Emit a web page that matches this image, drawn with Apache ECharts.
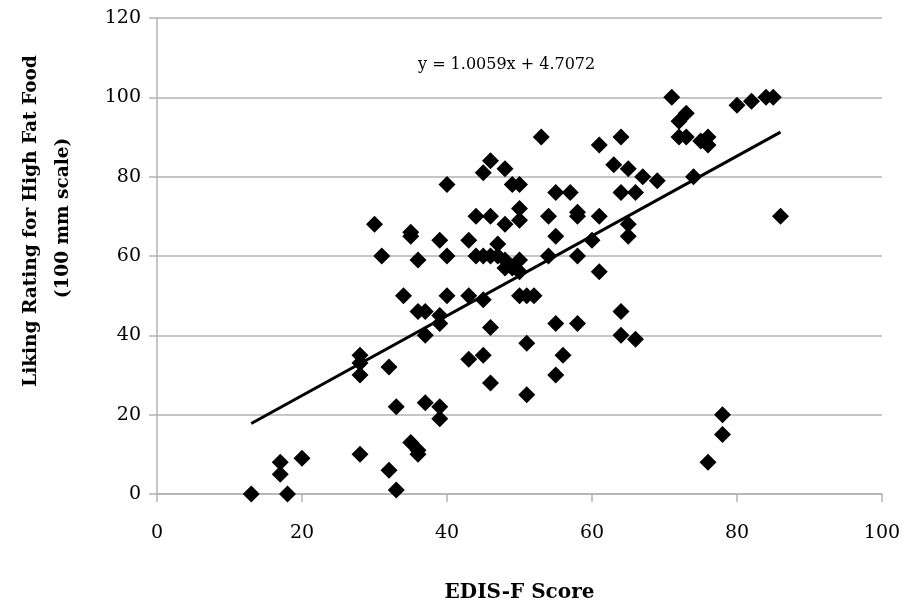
<!DOCTYPE html>
<html>
<head>
<meta charset="utf-8">
<script src="https://cdn.jsdelivr.net/npm/echarts@6/dist/echarts.min.js"></script>
<style>
  html, body { margin: 0; padding: 0; background: #fff; }
  #chart { width: 905px; height: 600px; }
</style>
</head>
<body>
<div id="chart"></div>
<script>
// EDIS-F score (x) and liking rating (y)
const edisScore = [
  13, 17, 17, 18, 20,
  28, 28, 28, 28,
  30, 31,
  32, 32, 33, 33,
  34,
  35, 35, 35, 36, 36,
  36, 36, 37, 37, 37,
  39, 39, 39, 39, 39,
  40, 40, 40,
  43, 43, 43,
  44, 44,
  45, 45, 45, 45,
  46, 46, 46, 46, 46,
  47, 47,
  48, 48, 48, 48,
  49, 49,
  50, 50, 50, 50, 50, 50,
  51, 51, 51,
  52,
  53,
  54, 54,
  55, 55, 55, 55,
  56,
  57,
  58, 58, 58, 58,
  60,
  61, 61, 61,
  63,
  64, 64, 64, 64,
  65, 65, 65,
  66, 66,
  67, 69,
  71, 72, 73, 72, 73,
  74,
  75, 76, 76,
  76, 78, 78,
  80, 82, 84, 85,
  86
];
const likingRating = [
  0, 8, 5, 0, 9,
  10, 35, 33, 30,
  68, 60,
  32, 6, 1, 22,
  50,
  66, 65, 13, 11, 10,
  59, 46, 46, 40, 23,
  64, 45, 43, 22, 19,
  78, 60, 50,
  64, 50, 34,
  70, 60,
  81, 60, 49, 35,
  84, 70, 60, 42, 28,
  63, 60,
  82, 68, 59, 57,
  78, 57,
  78, 72, 69, 59, 56, 50,
  50, 38, 25,
  50,
  90,
  70, 60,
  76, 65, 43, 30,
  35,
  76,
  71, 70, 60, 43,
  64,
  88, 70, 56,
  83,
  90, 76, 46, 40,
  82, 68, 65,
  76, 39,
  80, 79,
  100, 94, 96, 90, 90,
  80,
  89, 90, 88,
  8, 20, 15,
  98, 99, 100, 100,
  70
];
const xTicks = [0, 20, 40, 60, 80, 100];
const yTicks = [0, 20, 40, 60, 80, 100, 120];
// linear trendline shown on the chart
const slope = 1.0059;
const intercept = 4.7072;
const equationText = 'y = 1.0059x + 4.7072';

const points = edisScore.map((x, i) => [x, likingRating[i]]);
const xLo = Math.min(...edisScore);
const xHi = Math.max(...edisScore);
const trend = [[xLo, slope * xLo + intercept], [xHi, slope * xHi + intercept]];

const gray = '#b3b3b3';
const serif = 'DejaVu Serif';

const chart = echarts.init(document.getElementById('chart'));
chart.setOption({
  animation: false,
  grid: { left: 157, right: 23, top: 18, bottom: 106, containLabel: false, outerBoundsMode: 'none' },
  xAxis: {
    type: 'value',
    min: xTicks[0],
    max: xTicks[xTicks.length - 1],
    interval: xTicks[1] - xTicks[0],
    axisLine: { lineStyle: { color: gray, width: 1.5 } },
    axisTick: { show: true, length: 8, lineStyle: { color: gray, width: 1.5 } },
    axisLabel: { color: '#000', fontFamily: serif, fontSize: 19, margin: 30 },
    splitLine: { show: false },
    name: 'EDIS-F Score',
    nameLocation: 'middle',
    nameGap: 89,
    nameTextStyle: { color: '#000', fontFamily: serif, fontSize: 20, fontWeight: 'bold' }
  },
  yAxis: {
    type: 'value',
    min: yTicks[0],
    max: yTicks[yTicks.length - 1],
    interval: yTicks[1] - yTicks[0],
    axisLine: { show: true, lineStyle: { color: gray, width: 1.5 } },
    axisTick: { show: true, length: 8, lineStyle: { color: gray, width: 1.5 } },
    axisLabel: { color: '#000', fontFamily: serif, fontSize: 19, margin: 16 },
    splitLine: { show: true, lineStyle: { color: gray, width: 1.5 } }
  },
  graphic: [
    {
      type: 'text',
      x: 31,
      y: 221,
      rotation: Math.PI / 2,
      style: {
        text: 'Liking Rating for High Fat Food',
        fill: '#000',
        font: 'bold 18.5px "DejaVu Serif"',
        align: 'center',
        verticalAlign: 'middle'
      }
    },
    {
      type: 'text',
      x: 63,
      y: 218,
      rotation: Math.PI / 2,
      style: {
        text: '(100 mm scale)',
        fill: '#000',
        font: 'bold 18.5px "DejaVu Serif"',
        align: 'center',
        verticalAlign: 'middle'
      }
    },
    {
      type: 'text',
      left: 418,
      top: 57,
      style: {
        text: equationText,
        fill: '#000',
        font: '16px "DejaVu Serif"'
      }
    }
  ],
  series: [
    {
      type: 'scatter',
      data: points,
      symbol: 'diamond',
      symbolSize: 17,
      itemStyle: { color: '#000', opacity: 1 },
      z: 2
    },
    {
      type: 'line',
      data: trend,
      symbol: 'none',
      lineStyle: { color: '#000', width: 3 },
      z: 3
    }
  ]
});
</script>
</body>
</html>
